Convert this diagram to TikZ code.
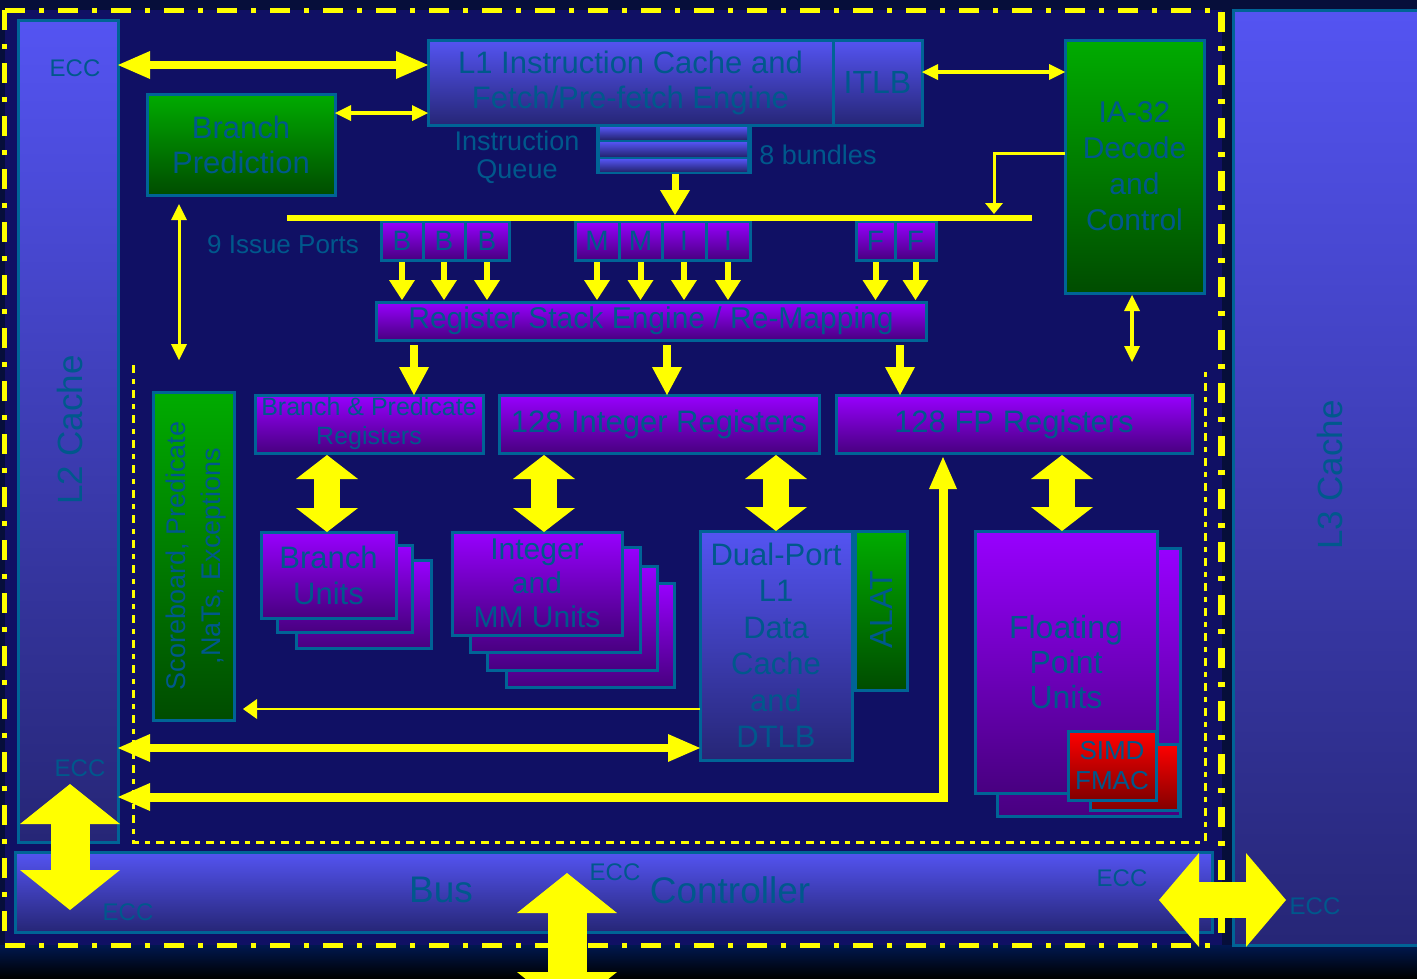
\documentclass[tikz,border=0pt]{standalone}
\usepackage{fontspec}
\setmainfont{Liberation Sans}
\usetikzlibrary{arrows.meta}

\definecolor{yel}{RGB}{255,255,0}
\definecolor{edge}{RGB}{0,100,150}
\definecolor{ink}{RGB}{0,88,140}
\definecolor{field}{RGB}{16,16,100}
\definecolor{rim}{RGB}{6,14,58}
\definecolor{pTop}{RGB}{152,0,255}
\definecolor{pBot}{RGB}{72,0,128}
\definecolor{gTop}{RGB}{0,172,0}
\definecolor{gBot}{RGB}{0,76,0}
\definecolor{bTop}{RGB}{84,84,242}
\definecolor{bBot}{RGB}{38,38,118}
\definecolor{rTop}{RGB}{255,0,0}
\definecolor{rBot}{RGB}{130,0,0}

\tikzset{
  f/.style 2 args={font=\fontsize{#1}{#2}\selectfont},
  sz/.style 2 args={minimum width=#1pt, minimum height=#2pt},
  box/.style={draw=edge, line width=3pt, inner sep=0pt, outer sep=0pt,
              anchor=north west, text=ink, align=center},
  purp/.style={box, top color=pTop, bottom color=pBot},
  grn/.style={box, top color=gTop, bottom color=gBot},
  blu/.style={box, top color=bTop, bottom color=bBot},
  redb/.style={box, top color=rTop, bottom color=rBot},
  lbl/.style={text=ink, inner sep=0pt, align=center},
  link/.style={draw=yel, line cap=butt},
  border/.style={draw=yel, line width=5pt, dash pattern=on 20pt off 14pt on 5pt off 14pt},
  hT/.tip={Triangle[length=11pt,width=18pt,line width=0pt]},
  hS/.tip={Triangle[length=16pt,width=16pt,line width=0pt]},
  hP/.tip={Triangle[length=20pt,width=26pt,line width=0pt]},
  hR/.tip={Triangle[length=28pt,width=30pt,line width=0pt]},
  hL/.tip={Triangle[length=32pt,width=28pt,line width=0pt]},
  hF/.tip={Triangle[length=24pt,width=62pt,line width=0pt]},
  hB/.tip={Triangle[length=40pt,width=100pt,line width=0pt]},
  hH/.tip={Triangle[length=40pt,width=94pt,line width=0pt]},
}

\begin{document}
\begin{tikzpicture}[x=1pt, y=-1pt, line join=miter]
\useasboundingbox (0,0) rectangle (1417,978);
\clip (0,0) rectangle (1417,978);

% ---- backdrop ----
\fill[rim] (0,0) rectangle (1417,978);
\fill[field] (5,10) rectangle (1222,945);
\shade[top color={rgb,255:red,0;green,24;blue,80}, bottom color=black] (0,945) rectangle (1417,978);

% ---- chip outline (outer) and core outline (inner) ----
\draw[border] (5,10) -- (1221,10);
\draw[border] (4,10) -- (4,945);
\draw[border, line width=7pt] (1221,12) -- (1221,945);
\draw[border] (5,945) -- (1221,945);
\draw[draw=yel, line width=3pt, dash pattern=on 8pt off 6pt on 5pt off 6pt]
  (133,365) -- (133,842) -- (1205,842) -- (1205,368);

% ---- caches and bus ----
\node[blu, sz={100}{822}] (L2) at (18,20) {};
\node[blu, sz={200}{935}] (L3) at (1233,10) {};
\node[blu, sz={1197}{80}] (Bus) at (15,852) {};

% ---- front end ----
\node[blu, sz={405}{85}, f={31}{35}] (L1I) at (428,40) {L1 Instruction Cache and\\Fetch/Pre-fetch Engine};
\node[blu, sz={89}{85}, f={32}{36}] (ITLB) at (833,40) {ITLB};
\node[box, fill=edge, sz={153}{47}] (IQ) at (597,125) {};
\shade[top color=bTop, bottom color=bBot] (600,127) rectangle (747,139);
\shade[top color=bTop, bottom color=bBot] (600,142) rectangle (747,156);
\shade[top color=bTop, bottom color=bBot] (600,159) rectangle (747,171);
\node[grn, sz={188}{101}, f={31}{35}] (BrPred) at (147,94) {Branch\\Prediction};
\node[grn, sz={139}{253}, f={30}{36}] (IA32) at (1065,40) {IA-32\\Decode\\and\\Control};

% ---- issue ports ----
\node[purp, sz={42}{39}, f={28}{32}] (B1) at (381,221) {B};
\node[purp, sz={42}{39}, f={28}{32}] (B2) at (423,221) {B};
\node[purp, sz={44}{39}, f={28}{32}] (B3) at (465,221) {B};
\node[purp, sz={44}{39}, f={28}{32}] (M1) at (575,221) {M};
\node[purp, sz={43}{39}, f={28}{32}] (M2) at (619,221) {M};
\node[purp, sz={44}{39}, f={28}{32}] (I1) at (662,221) {I};
\node[purp, sz={44}{39}, f={28}{32}] (I2) at (706,221) {I};
\node[purp, sz={39}{39}, f={28}{32}] (F1) at (856,221) {F};
\node[purp, sz={41}{39}, f={28}{32}] (F2) at (895,221) {F};

\node[purp, sz={550}{38}, f={30}{34}] (RSE) at (376,302) {Register Stack Engine / Re-Mapping};

% ---- register files ----
\node[purp, sz={228}{58}, f={25}{29}] (BPR) at (255,395) {Branch \& Predicate\\Registers};
\node[purp, sz={320}{58}, f={31}{35}] (IntR) at (499,395) {128 Integer Registers};
\node[purp, sz={356}{58}, f={31}{35}] (FPR) at (836,395) {128 FP Registers};

% ---- execution ----
\node[grn, sz={81}{328}] (SB) at (153,392) {};
\node[purp, sz={135}{88}] (BrU3) at (296,560) {};
\node[purp, sz={135}{87}] (BrU2) at (277,545) {};
\node[purp, sz={135}{86}, f={31}{36}] (BrU) at (261,532) {Branch\\Units};
\node[purp, sz={168}{104}] (IntU4) at (506,583) {};
\node[purp, sz={170}{104}] (IntU3) at (487,566) {};
\node[purp, sz={170}{105}] (IntU2) at (470,547) {};
\node[purp, sz={170}{103}, f={30}{34}] (IntU) at (452,532) {Integer\\and\\MM Units};
\node[blu, sz={152}{229}, f={31}{36.5}] (DC) at (700,531) {Dual-Port\\L1\\Data\\Cache\\and\\DTLB};
\node[grn, sz={52}{159}] (ALAT) at (855,531) {};
\node[purp, sz={183}{268}] (FPU2) at (997,548) {};
\node[purp, sz={182}{262}, f={32}{35}] (FPU) at (975,531) {Floating\\Point\\Units};
\node[redb, sz={88}{66}] (SIMD2) at (1090,744) {};
\node[redb, sz={88}{69}, f={26}{30}] (SIMD) at (1068,731) {SIMD\\FMAC};

% ---- connectors ----
\draw[link, line width=8pt, {hL}-{hL}] (L2.east |- 0,65) -- (L1I.west |- 0,65);
\draw[link, line width=4pt, {hS}-{hS}] (BrPred.east |- 0,113) -- (L1I.west |- 0,113);
\draw[link, line width=4pt, {hS}-{hS}] (ITLB.east |- 0,72) -- (IA32.west |- 0,72);

\coordinate (barL) at (287,218);
\coordinate (barR) at (1032,218);
\draw[link, line width=6pt] (barL) -- (barR);
\draw[link, line width=7pt, -{Triangle[length=25pt,width=30pt,line width=0pt]}, shorten <=2pt, shorten >=3pt]
  (IQ.south -| 675,0) -- (barL -| 675,0);
\coordinate (tap) at (994,214);
\draw[link, line width=3pt, -{hT}] (IA32.west |- 0,153) -| (tap);

\foreach \p in {B1,B2,B3,M1,M2,I1,I2,F1,F2}
  \draw[link, line width=6pt, -{hP}, shorten <=2pt, shorten >=2pt] (\p.south) -- (\p.south |- RSE.north);

\foreach \x/\t in {414/BPR, 667/IntR, 900/FPR}
  \draw[link, line width=8pt, -{hR}, shorten <=5pt] (RSE.south -| \x,0) -- (\t.north -| \x,0);

\draw[link, line width=26pt, {hF}-{hF}, shorten <=2pt] (BPR.south -| 327,0) -- (BrU.north -| 327,0);
\draw[link, line width=26pt, {hF}-{hF}, shorten <=2pt] (IntR.south -| 544,0) -- (IntU.north -| 544,0);
\draw[link, line width=26pt, {hF}-{hF}, shorten <=2pt] (IntR.south -| 776,0) -- (DC.north -| 776,0);
\draw[link, line width=26pt, {hF}-{hF}, shorten <=2pt] (FPR.south -| 1062,0) -- (FPU.north -| 1062,0);

\draw[link, line width=8pt, {hL}-{hL}] (L2.east |- 0,748) -- (DC.west |- 0,748);
\coordinate (turn) at (943,797);
\draw[link, line width=9pt, {hL}-{hL}, shorten >=4pt] (L2.east |- turn) -- (turn) -- (FPR.south -| turn);
\draw[link, line width=2.5pt, -{Triangle[length=14pt,width=20pt,line width=0pt]}, shorten >=9pt]
  (DC.west |- 0,709) -- (SB.east |- 0,709);

\coordinate (bpEnd) at (179,360);
\draw[link, line width=3pt, {hS}-{hS}, shorten <=9pt] (BrPred.south -| bpEnd) -- (bpEnd);
\coordinate (iaEnd) at (1132,362);
\draw[link, line width=3.5pt, {hS}-{hS}, shorten <=2pt] (IA32.south -| iaEnd) -- (iaEnd);

% ---- system bus arrows ----
\coordinate (bgA1) at (70,784);
\coordinate (bgA2) at (70,910);
\draw[link, line width=39pt, {hB}-{hB}] (bgA1) -- (bgA2);
\coordinate (bgB1) at (567,873);
\coordinate (bgB2) at (567,1012);
\draw[link, line width=39pt, {hB}-{hB}] (bgB1) -- (bgB2);
\coordinate (bgC1) at (1159,900);
\coordinate (bgC2) at (1286,900);
\draw[link, line width=36pt, {hH}-{hH}] (bgC1) -- (bgC2);

% ---- free labels ----
\node[lbl, f={35}{40}, rotate=90] (L2t) at (70,430) {L2 Cache};
\node[lbl, f={35}{40}, rotate=90] (L3t) at (1330,475) {L3 Cache};
\node[lbl, f={27}{35}, rotate=90] (SBt) at (196,556) {Scoreboard, Predicate\\,NaTs, Exceptions};
\node[lbl, f={32}{36}, rotate=90] (ALt) at (881,610) {ALAT};
\node[lbl, f={37}{40}] (BusA) at (441,890) {Bus};
\node[lbl, f={37}{40}] (BusB) at (730,890) {Controller};
\node[lbl, f={27}{28}] (IQt) at (517,157) {Instruction\\Queue};
\node[lbl, f={27}{30}] (IQn) at (818,155) {8 bundles};
\node[lbl, f={26}{30}] (IPt) at (283,245) {9 Issue Ports};
\node[lbl, f={24}{28}] (E1) at (75,68) {ECC};
\node[lbl, f={24}{28}] (E2) at (80,768) {ECC};
\node[lbl, f={24}{28}] (E3) at (128,912) {ECC};
\node[lbl, f={24}{28}] (E4) at (615,872) {ECC};
\node[lbl, f={24}{28}] (E5) at (1122,878) {ECC};
\node[lbl, f={24}{28}] (E6) at (1315,906) {ECC};
\end{tikzpicture}
\end{document}
